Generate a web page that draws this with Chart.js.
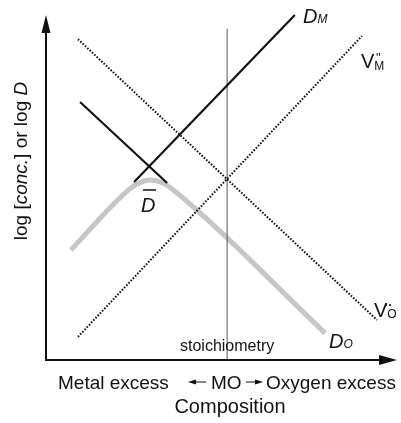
<!DOCTYPE html>
<html>
<head>
<meta charset="utf-8">
<script src="https://cdn.jsdelivr.net/npm/chart.js@4"></script>
<style>
  html, body { margin: 0; padding: 0; background: #fff; }
</style>
</head>
<body>
<canvas id="chart" width="401" height="423"></canvas>
<script>
// x: composition, 0..100 ; y: log value, 0..100 (arbitrary units, schematic)
const stoichX = [51.6, 51.6];
const stoichY = [0, 96];
const dmX = [25.1, 70.9];
const dmY = [51.6, 100];
const doX = [9.7, 34.5];
const doY = [74.8, 51.3];
const vmX = [9.1, 90.0];
const vmY = [6.7, 93.9];
const voX = [9.1, 94.3];
const voY = [93.0, 11.6];
const dBarX = [7.1, 22.5, 25.9, 29.6, 33.3, 37.0, 79.5];
const dBarY = [31.9, 48.4, 51.0, 52.2, 51.3, 48.7, 7.8];

const FONT = '"Liberation Sans", Arial, sans-serif';

function pts(xs, ys) {
    return xs.map((x, i) => ({x: x, y: ys[i]}));
}

function rich(ctx, x, y, parts) {
    // parts: [text, font, dy]
    parts.forEach(p => {
        ctx.font = p[1];
        ctx.fillText(p[0], x, y + (p[2] || 0));
        x += ctx.measureText(p[0]).width;
    });
    return x;
}

const decor = {
    id: 'decor',
    afterDraw(chart) {
        const ctx = chart.ctx;
        const a = chart.chartArea;
        ctx.save();
        ctx.fillStyle = '#111';
        ctx.strokeStyle = '#111';

        // axes
        ctx.lineWidth = 2;
        ctx.beginPath();
        ctx.moveTo(a.left, a.top + 10);
        ctx.lineTo(a.left, a.bottom);
        ctx.lineTo(a.right - 10, a.bottom);
        ctx.stroke();
        ctx.beginPath();
        ctx.moveTo(a.left, a.top);
        ctx.lineTo(a.left - 4.5, a.top + 18);
        ctx.lineTo(a.left + 4.5, a.top + 18);
        ctx.closePath();
        ctx.fill();
        ctx.beginPath();
        ctx.moveTo(a.right, a.bottom);
        ctx.lineTo(a.right - 18, a.bottom - 5);
        ctx.lineTo(a.right - 18, a.bottom + 5);
        ctx.closePath();
        ctx.fill();

        ctx.textBaseline = 'alphabetic';
        ctx.textAlign = 'left';

        // curve labels
        rich(ctx, 303, 23, [['D', 'italic 20px ' + FONT], ['M', 'italic 12px ' + FONT]]);
        rich(ctx, 361, 68, [['V', '20px ' + FONT], ['M', '12px ' + FONT, 2]]);
        ctx.font = '13px ' + FONT;
        ctx.fillText('"', 376, 62);
        rich(ctx, 374, 317, [['V', '20px ' + FONT], ['O', '12px ' + FONT, 1]]);
        ctx.beginPath();
        ctx.arc(386, 305, 1.1, 0, Math.PI * 2);
        ctx.arc(390, 305, 1.1, 0, Math.PI * 2);
        ctx.fill();
        rich(ctx, 329, 348, [['D', 'italic 20px ' + FONT], ['O', 'italic 12px ' + FONT]]);
        rich(ctx, 141, 212, [['D', 'italic 20px ' + FONT]]);
        ctx.lineWidth = 1.5;
        ctx.beginPath();
        ctx.moveTo(143, 190);
        ctx.lineTo(156, 190);
        ctx.stroke();

        ctx.font = '16px ' + FONT;
        ctx.fillText('stoichiometry', 180, 351);

        // x axis captions
        ctx.font = '19px ' + FONT;
        ctx.fillText('Metal excess', 58, 389);
        ctx.fillText('MO', 211, 389);
        ctx.fillText('Oxygen excess', 266, 389);
        ctx.font = '20px ' + FONT;
        ctx.textAlign = 'center';
        ctx.fillText('Composition', 230, 413);
        ctx.textAlign = 'left';

        // small arrows around MO
        ctx.lineWidth = 1.2;
        ctx.beginPath();
        ctx.moveTo(192, 382); ctx.lineTo(206, 382);
        ctx.moveTo(246, 382); ctx.lineTo(259, 382);
        ctx.stroke();
        ctx.beginPath();
        ctx.moveTo(188, 382); ctx.lineTo(196, 379.5); ctx.lineTo(196, 384.5); ctx.closePath();
        ctx.moveTo(263, 382); ctx.lineTo(255, 379.5); ctx.lineTo(255, 384.5); ctx.closePath();
        ctx.fill();

        // y axis caption
        ctx.translate(27, 161);
        ctx.rotate(-Math.PI / 2);
        const parts = [['log [', '19px ' + FONT], ['conc.', 'italic 19px ' + FONT],
                       ['] or log ', '19px ' + FONT], ['D', 'italic 19px ' + FONT]];
        let w = 0;
        parts.forEach(p => { ctx.font = p[1]; w += ctx.measureText(p[0]).width; });
        rich(ctx, -w / 2, 0, parts);
        ctx.restore();
    }
};

const solid = (xs, ys, color, width) => ({
    data: pts(xs, ys),
    showLine: true,
    borderColor: color,
    borderWidth: width,
    pointRadius: 0,
    tension: 0,
    clip: false
});

const dotted = (xs, ys) => Object.assign(solid(xs, ys, '#111', 2), {borderDash: [1.6, 1.6]});

const myChart = new Chart(document.getElementById('chart'), {
    type: 'scatter',
    data: {
        datasets: [
            solid(dmX, dmY, '#111', 2.2),
            solid(doX, doY, '#111', 2.2),
            dotted(vmX, vmY),
            dotted(voX, voY),
            solid(stoichX, stoichY, '#555', 1),
            Object.assign(solid(dBarX, dBarY, '#c6c6c6', 5), {cubicInterpolationMode: 'monotone'})
        ]
    },
    options: {
        responsive: false,
        animation: false,
        layout: {padding: {left: 46, right: 4, top: 15, bottom: 63}},
        plugins: {legend: {display: false}, tooltip: {enabled: false}},
        scales: {
            x: {type: 'linear', min: 0, max: 100, display: false},
            y: {type: 'linear', min: 0, max: 100, display: false}
        }
    },
    plugins: [decor]
});
</script>
</body>
</html>
